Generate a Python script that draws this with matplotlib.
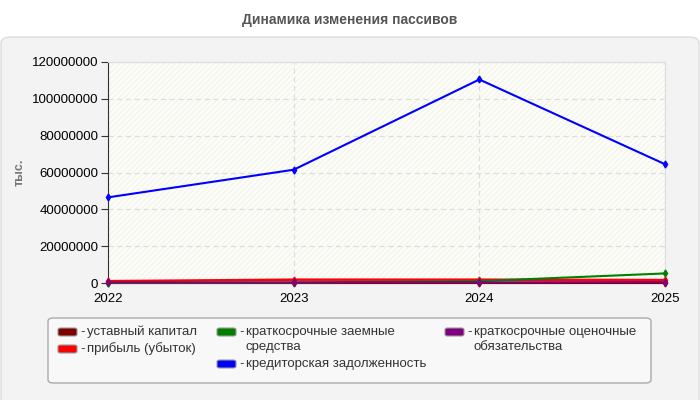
import matplotlib
matplotlib.use("Agg")
import matplotlib.pyplot as plt
from matplotlib.patches import FancyBboxPatch, Rectangle

plt.rcParams['font.family'] = ['Liberation Sans', 'DejaVu Sans']
plt.rcParams['hatch.linewidth'] = 0.6

years = [2022, 2023, 2024, 2025]
ustav = [10000, 10000, 10000, 10000]
pribyl = [1000000, 1800000, 1800000, 1600000]
zaem = [0, 300000, 1000000, 5200000]
kredit = [46500000, 61500000, 110500000, 64500000]
ocen = [300000, 300000, 400000, 500000]

names = ["уставный капитал", "прибыль (убыток)",
         "краткосрочные заемные\nсредства", "кредиторская задолженность",
         "краткосрочные оценочные\nобязательства"]
colors = ["#800000", "#ff0000", "#008000", "#0000ff", "#800080"]
series = [ustav, pribyl, zaem, kredit, ocen]
yticks = [0, 20000000, 40000000, 60000000, 80000000, 100000000, 120000000]

W, H = 700, 400
fig = plt.figure(figsize=(7, 4), dpi=100)
fig.patch.set_facecolor("white")


def px(x, y):
    # pixel coords (top-left origin) -> figure fraction
    return x / W, 1 - y / H


# grey rounded panel behind the chart
panel = FancyBboxPatch((1 / W, -0.02), 698 / W, 363 / H + 0.02,
                       boxstyle="round,pad=0,rounding_size=0.015",
                       transform=fig.transFigure, facecolor="#f3f3f3",
                       edgecolor="#dddddd", linewidth=1, zorder=-10)
fig.patches.append(panel)

# legend box
lbox = FancyBboxPatch(px(48, 383), 603 / W, 65 / H,
                      boxstyle="round,pad=0,rounding_size=0.008",
                      transform=fig.transFigure, facecolor="#f8f8f8",
                      edgecolor="#aaaaaa", linewidth=1, zorder=-5)
fig.patches.append(lbox)

fig.text(*px(350, 20), "Динамика изменения пассивов", ha="center", va="center",
         fontsize=10, fontweight="bold", color="#555555")
fig.text(*px(20, 172), "тыс.", ha="center", va="center", rotation=90,
         fontsize=9, fontweight="bold", color="#777777")

ax = fig.add_axes([108 / W, 1 - 283 / H, 557 / W, 221 / H])
ax.set_facecolor("#fdfdf8")
ax.add_patch(Rectangle((0, 0), 1, 1, transform=ax.transAxes, facecolor="none",
                       edgecolor="#efefec", hatch="//////", linewidth=0, zorder=0))

for vals, c in zip(series, colors):
    ax.plot(years, vals, color=c, linewidth=1.8 if c == "#ff0000" else 1.5,
            marker="d", markersize=3.5, zorder=3, clip_on=False)

ax.set_xlim(2022, 2025)
ax.set_ylim(0, 120000000)
ax.set_xticks(years)
ax.set_yticks(yticks)
ax.set_yticklabels([str(v) for v in yticks])
ax.tick_params(axis="both", labelsize=9.5, colors="#333333", labelcolor="black")
ax.tick_params(axis="x", length=0, pad=7)
ax.tick_params(axis="y", length=5, pad=2)
ax.grid(True, color="#dddddd", linestyle=(0, (4, 3)), linewidth=0.9)
for s in ["top", "right"]:
    ax.spines[s].set_color("#dddddd")
for s in ["left", "bottom"]:
    ax.spines[s].set_color("#333333")

# legend, drawn by hand in three columns
col_x = [58, 217, 445]
col_items = [[0, 1], [2, 3], [4]]
for cx, items in zip(col_x, col_items):
    y = 332
    for i in items:
        hx, hy = px(cx, y + 4)
        fig.patches.append(FancyBboxPatch((hx, hy), 19 / W, 8 / H,
                                          boxstyle="round,pad=0,rounding_size=0.004",
                                          transform=fig.transFigure, facecolor=colors[i],
                                          edgecolor="#999999", linewidth=0.8))
        fig.text(*px(cx + 22, y), "-", ha="left", va="center", fontsize=9.5, color="#333333")
        for line in names[i].split("\n"):
            fig.text(*px(cx + 29, y), line, ha="left", va="center",
                     fontsize=9.5, color="#333333")
            y += 15
        y += 2

fig.savefig("out.png", dpi=100, facecolor=fig.get_facecolor())
